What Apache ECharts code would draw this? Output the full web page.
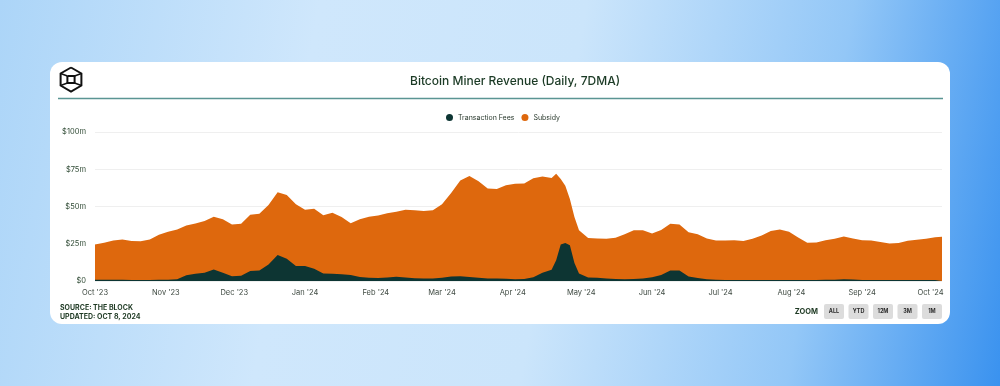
<!DOCTYPE html>
<html>
<head>
<meta charset="utf-8">
<script src="https://cdn.jsdelivr.net/npm/echarts@6/dist/echarts.min.js"></script>
<style>
  html, body { margin: 0; padding: 0; width: 1000px; height: 386px; overflow: hidden; }
  body { background: linear-gradient(100deg, #acd5f8 0%, #cfe7fc 30%, #cbe5fb 55%, #93c7f7 80%, #3a92ef 100%); position: relative; font-family: Inter, sans-serif; }
  #card { position: absolute; left: 50px; top: 62px; width: 900px; height: 262px; background: #fff; border-radius: 12px; }
  #chart { position: absolute; left: 0; top: 0; width: 1000px; height: 386px; }
</style>
</head>
<body>
<div id="card"></div>
<div id="chart"></div>
<script>
// ---- data (USD millions, 7-day moving average) ----
const dates = [
  '2023-10-01','2023-10-05','2023-10-09','2023-10-13','2023-10-17','2023-10-21','2023-10-25','2023-10-29',
  '2023-11-02','2023-11-06','2023-11-10','2023-11-14','2023-11-18','2023-11-22','2023-11-26','2023-11-30',
  '2023-12-04','2023-12-08','2023-12-12','2023-12-16','2023-12-20','2023-12-24','2023-12-28',
  '2024-01-01','2024-01-05','2024-01-09','2024-01-13','2024-01-17','2024-01-21','2024-01-25','2024-01-29',
  '2024-02-02','2024-02-06','2024-02-10','2024-02-14','2024-02-18','2024-02-22','2024-02-26',
  '2024-03-01','2024-03-05','2024-03-09','2024-03-13','2024-03-17','2024-03-21','2024-03-25','2024-03-29',
  '2024-04-02','2024-04-06','2024-04-10','2024-04-14','2024-04-18','2024-04-20','2024-04-22','2024-04-24','2024-04-26','2024-04-28','2024-04-30',
  '2024-05-04','2024-05-08','2024-05-12','2024-05-16','2024-05-20','2024-05-24','2024-05-28',
  '2024-06-01','2024-06-05','2024-06-09','2024-06-13','2024-06-17','2024-06-21','2024-06-25','2024-06-29',
  '2024-07-03','2024-07-07','2024-07-11','2024-07-15','2024-07-19','2024-07-23','2024-07-27','2024-07-31',
  '2024-08-04','2024-08-08','2024-08-12','2024-08-16','2024-08-20','2024-08-24','2024-08-28',
  '2024-09-01','2024-09-05','2024-09-09','2024-09-13','2024-09-17','2024-09-21','2024-09-25','2024-09-29',
  '2024-10-03','2024-10-06'
];
const fees = [
  0.8,0.8,0.8,0.8,0.7,0.7,0.7,0.8,
  0.9,1.2,3.8,4.9,5.6,7.8,5.5,3.2,
  3.5,6.7,7.0,11.0,17.5,15.0,10.0,
  10.0,8.2,5.0,4.8,4.6,4.0,2.7,2.2,
  2.0,2.4,2.8,2.4,1.8,1.6,1.7,
  2.2,3.0,3.2,2.7,2.1,1.6,1.6,1.5,
  1.2,1.4,2.5,5.5,7.5,14.0,24.5,25.5,24.0,12.0,5.0,
  2.3,2.2,1.6,1.4,1.1,1.3,1.6,
  2.6,4.0,7.0,7.0,3.0,2.0,1.1,0.8,
  0.7,0.7,0.7,0.7,0.7,0.7,0.7,0.7,
  0.7,0.7,0.7,0.8,0.9,1.1,1.0,
  0.6,0.6,0.6,0.6,0.6,0.6,0.6,0.6,
  0.6,0.6
];
const subsidy = [
  23.7,24.9,26.4,27.1,26.1,25.9,27.2,30.2,
  32.1,33.3,33.5,33.7,34.6,35.3,36.0,34.8,
  35.0,37.8,38.1,40.0,42.0,42.8,41.5,
  37.8,40.3,39.2,41.0,38.4,34.8,38.8,41.0,
  42.0,43.0,43.6,45.4,45.7,45.4,45.8,
  49.3,56.0,64.3,67.8,64.9,60.4,60.2,62.7,
  64.1,64.1,66.5,64.7,61.7,58.0,44.0,38.5,31.0,31.0,29.0,
  26.6,26.4,26.7,27.6,30.2,32.7,32.4,
  29.3,30.2,31.4,31.0,29.8,29.4,27.4,26.4,
  26.5,26.7,26.2,27.7,29.9,32.9,33.8,32.3,
  28.5,24.9,25.1,26.6,27.5,28.7,27.5,
  26.7,26.6,25.6,24.5,24.9,26.4,27.1,27.8,
  28.8,29.1
];
const seriesNames = ['Transaction Fees', 'Subsidy'];
const yTicks = [0, 25, 50, 75, 100];
const monthTicks = ['2023-10-01','2023-11-01','2023-12-01','2024-01-01','2024-02-01','2024-03-01','2024-04-01',
  '2024-05-01','2024-06-01','2024-07-01','2024-08-01','2024-09-01','2024-10-01'];
const monthLabels = ["Oct '23","Nov '23","Dec '23","Jan '24","Feb '24","Mar '24","Apr '24",
  "May '24","Jun '24","Jul '24","Aug '24","Sep '24","Oct '24"];
const zoomButtons = ['ALL', 'YTD', '12M', '3M', '1M'];

// ---- helpers ----
function ts(s) { const p = s.split('-').map(Number); return Date.UTC(p[0], p[1] - 1, p[2]); }
const monthTs = monthTicks.map(ts);
const labelMap = {};
monthTs.forEach((t, i) => { labelMap[t] = monthLabels[i]; });

const FONT = 'Inter, "Noto Sans", sans-serif';
const chart = echarts.init(document.getElementById('chart'), null, { renderer: 'canvas' });

// logo geometry
const cx = 71, cy = 79.5, R = 12;
const hex = [];
for (let k = 0; k < 6; k++) { const a = (-90 + 60 * k) * Math.PI / 180; hex.push([cx + R * Math.cos(a), cy + R * Math.sin(a)]); }
hex.push(hex[0]);
const s = 3.6;
const sq = [[cx - s, cy - s], [cx + s, cy - s], [cx + s, cy + s], [cx - s, cy + s], [cx - s, cy - s]];

const graphics = [
  { type: 'polyline', shape: { points: hex }, style: { stroke: '#111', lineWidth: 2, fill: null } },
  { type: 'polyline', shape: { points: sq }, style: { stroke: '#111', lineWidth: 2, fill: null } },
  { type: 'line', shape: { x1: hex[5][0], y1: hex[5][1], x2: cx - s, y2: cy - s }, style: { stroke: '#111', lineWidth: 1.6 } },
  { type: 'line', shape: { x1: hex[1][0], y1: hex[1][1], x2: cx + s, y2: cy - s }, style: { stroke: '#111', lineWidth: 1.6 } },
  { type: 'line', shape: { x1: hex[2][0], y1: hex[2][1], x2: cx + s, y2: cy + s }, style: { stroke: '#111', lineWidth: 1.6 } },
  { type: 'line', shape: { x1: hex[4][0], y1: hex[4][1], x2: cx - s, y2: cy + s }, style: { stroke: '#111', lineWidth: 1.6 } },
  { type: 'line', shape: { x1: 58, y1: 98.5, x2: 943, y2: 98.5 }, style: { stroke: '#5a9593', lineWidth: 1.3 } },
  { type: 'text', x: 60, y: 308, style: { text: 'SOURCE: THE BLOCK', font: 'bold 7px ' + FONT, fill: '#1f3a24', textVerticalAlign: 'middle' } },
  { type: 'text', x: 60, y: 316.5, style: { text: 'UPDATED: OCT 8, 2024', font: 'bold 7px ' + FONT, fill: '#1f3a24', textVerticalAlign: 'middle' } },
  { type: 'text', x: 818, y: 311.5, style: { text: 'ZOOM', font: 'bold 7.5px ' + FONT, fill: '#1f3a24', textAlign: 'right', textVerticalAlign: 'middle' } }
];
zoomButtons.forEach((b, i) => {
  const x0 = 824 + i * 24.5;
  graphics.push({ type: 'rect', shape: { x: x0, y: 304, width: 20, height: 15, r: 2 }, style: { fill: '#dcdcdc' } });
  graphics.push({ type: 'text', x: x0 + 10, y: 311.5, style: { text: b, font: 'bold 5.5px ' + FONT, fill: '#2a2a2a', textAlign: 'center', textVerticalAlign: 'middle' } });
});

// stacked top of the subsidy band = fees + subsidy
const feesData = dates.map((d, i) => [ts(d), fees[i]]);
const subsidyTop = dates.map((d, i) => [ts(d), +(fees[i] + subsidy[i]).toFixed(2)]);

chart.setOption({
  animation: false,
  backgroundColor: 'transparent',
  title: {
    text: 'Bitcoin Miner Revenue (Daily, 7DMA)',
    left: 405, top: 70,
    textStyle: { fontFamily: FONT, fontSize: 12, fontWeight: 500, color: '#1b3a25' }
  },
  legend: {
    data: seriesNames,
    left: 441, top: 109,
    icon: 'circle', itemWidth: 7, itemHeight: 7, itemGap: 7,
    textStyle: { fontFamily: FONT, fontSize: 7, color: '#2a3a2e' }
  },
  grid: { left: 95, right: 58, top: 132, bottom: 105, containLabel: false },
  xAxis: {
    type: 'value',
    min: ts(dates[0]), max: ts(dates[dates.length - 1]),
    axisLine: { show: false }, axisTick: { show: false }, splitLine: { show: false },
    axisLabel: {
      customValues: monthTs,
      formatter: v => labelMap[v] || '',
      fontFamily: FONT, fontSize: 7.5, color: '#3f4a42', margin: 8,
      showMinLabel: true, showMaxLabel: true, hideOverlap: false
    }
  },
  yAxis: {
    type: 'value', min: yTicks[0], max: yTicks[yTicks.length - 1], interval: 25,
    axisLine: { show: false }, axisTick: { show: false },
    splitLine: { lineStyle: { color: '#efefef', width: 1 } },
    axisLabel: {
      formatter: v => v === 0 ? '$0' : '$' + v + 'm',
      fontFamily: FONT, fontSize: 7.5, color: '#2f4a34', margin: 9
    }
  },
  series: [
    {
      name: seriesNames[0], type: 'line', symbol: 'none',
      color: '#0d3533',
      lineStyle: { width: 0 }, areaStyle: { color: '#0d3533', opacity: 1 },
      data: feesData, z: 3
    },
    {
      name: seriesNames[1], type: 'line', symbol: 'none',
      color: '#de680d',
      lineStyle: { width: 0 }, areaStyle: { color: '#de680d', opacity: 1 },
      data: subsidyTop, z: 2
    }
  ],
  graphic: graphics
});
</script>
</body>
</html>
